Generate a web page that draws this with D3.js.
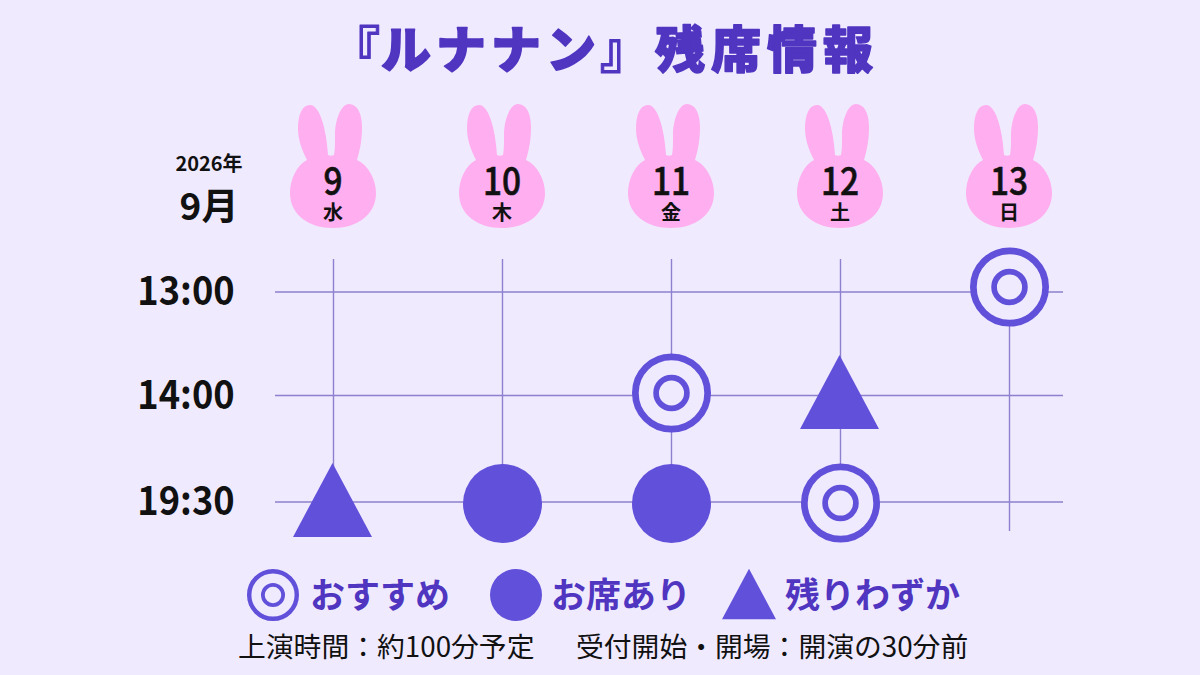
<!DOCTYPE html>
<html lang="ja">
<head>
<meta charset="utf-8">
<script src="https://cdn.jsdelivr.net/npm/d3@7"></script>
<style>
  html, body { margin: 0; padding: 0; background: #f0eaff; }
  text { font-family: "Noto Sans CJK JP", sans-serif; }
</style>
</head>
<body>
<svg id="chart" width="1200" height="675"></svg>
<script>
const days = ["9", "10", "11", "12", "13"];
const weekdays = ["水", "木", "金", "土", "日"];
const times = ["13:00", "14:00", "19:30"];
// seat status per time row, one entry per day: null = no show
const seats1300 = [null, null, null, null, "double"];
const seats1400 = [null, null, "double", "triangle", null];
const seats1930 = ["triangle", "circle", "circle", "double", null];
const legendKeys = ["double", "circle", "triangle"];
const legendLabels = ["おすすめ", "お席あり", "残りわずか"];

const yearLabel = "2026年";
const monthLabel = "9月";
const noteLeft = "上演時間：約100分予定";
const noteRight = "受付開始・開場：開演の30分前";

const bgColor = "#f0eaff";
const titleColor = "#4f35c0";
const markColor = "#6150da";
const gridColor = "#8d80cf";
const bunnyColor = "#ffaef0";

const svg = d3.select("#chart");
svg.append("rect").attr("width", 1200).attr("height", 675).attr("fill", bgColor);

const x = d3.scalePoint().domain(days).range([333, 1009]);
// rows are not evenly spaced in the original
const y = d3.scaleOrdinal().domain(times).range([292, 395.5, 502]);
// the marks were placed by hand, a little off the grid crossings
const doubleShift = [-5, -2.5, 1];
const circleShift = [0, 0, 1.5];
const triangleShift = [0, -3.5, -2];

// grid
svg.append("g").selectAll("line").data(times).join("line")
    .attr("x1", 275).attr("x2", 1063)
    .attr("y1", d => y(d)).attr("y2", d => y(d))
    .attr("stroke", gridColor).attr("stroke-width", 1.4);
svg.append("g").selectAll("line").data(days).join("line")
    .attr("x1", d => x(d) + 0.5).attr("x2", d => x(d) + 0.5)
    .attr("y1", 259).attr("y2", 531)
    .attr("stroke", gridColor).attr("stroke-width", 1.4);

// title
function title(str, xPos, spacing, sw) {
    svg.append("text")
        .attr("x", xPos).attr("y", 68)
        .attr("font-size", 50)
        .attr("font-weight", 900)
        .attr("letter-spacing", spacing)
        .attr("fill", titleColor)
        .attr("stroke", titleColor)
        .attr("stroke-width", sw)
        .attr("stroke-linejoin", "round")
        .text(str);
}
title("『", 330, 0, 1);
title("ルナナン", 381, 5, 1.5);
title("』", 600, 0, 1);
title("残席情報", 655, 6, 1.5);

// year and month
svg.append("text").attr("x", 209).attr("y", 171).attr("text-anchor", "middle")
    .attr("font-size", 20).attr("font-weight", 700).attr("fill", "#111").text(yearLabel);
svg.append("text").attr("x", 209).attr("y", 220).attr("text-anchor", "middle")
    .attr("font-size", 37).attr("font-weight", 700).attr("fill", "#111").text(monthLabel);

// bunny heads with the date inside
const bunnies = svg.append("g").selectAll("g").data(days).join("g")
    .attr("transform", d => `translate(${x(d)},155)`);
bunnies.append("path")
    .attr("d", "M-23,-50 C-31,-50 -35,-40 -35,-27 C-35,-15 -31,-5 -26,5 C-36,10 -43,24 -43,38 C-43,60 -24,73 0,73 C24,73 43,60 43,38 C43,24 35,10 24,5 C27,-5 29,-15 29,-28 C29,-42 24,-51 16,-51 C8,-51 2,-35 2,-20 C2,-10 2,-5 1,0 C-1,1 -3,1 -5,0 C-6,-20 -12,-50 -23,-50 Z")
    .attr("fill", bunnyColor);
bunnies.append("text").attr("y", 40).attr("text-anchor", "middle")
    .attr("transform", "scale(0.88,1)")
    .attr("font-size", 38).attr("font-weight", 500)
    .attr("fill", "#111").attr("stroke", "#111").attr("stroke-width", 0.6)
    .text(d => d);
bunnies.append("text").attr("y", 65).attr("text-anchor", "middle")
    .attr("font-size", 20).attr("font-weight", 700).attr("fill", "#111")
    .text((d, i) => weekdays[i]);

// time labels
svg.append("g").selectAll("text").data(times).join("text")
    .attr("transform", d => `translate(186,${y(d) + 13}) scale(0.93,1)`)
    .attr("text-anchor", "middle")
    .attr("font-size", 39).attr("font-weight", 700).attr("fill", "#111")
    .text(d => d);

function drawMark(g, kind, cx, cy, r) {
    if (kind === "double") {
        const sw = r * 0.17;
        g.append("circle").attr("cx", cx).attr("cy", cy).attr("r", r - sw / 2)
            .attr("fill", bgColor).attr("stroke", markColor).attr("stroke-width", sw);
        g.append("circle").attr("cx", cx).attr("cy", cy).attr("r", r * 0.39)
            .attr("fill", "none").attr("stroke", markColor).attr("stroke-width", sw * 0.85);
    } else if (kind === "circle") {
        g.append("circle").attr("cx", cx).attr("cy", cy).attr("r", r).attr("fill", markColor);
    } else {
        const h = r * 1.87;
        g.append("path")
            .attr("d", d3.line()([[cx, cy - h / 2], [cx + r, cy + h / 2], [cx - r, cy + h / 2]]) + "Z")
            .attr("fill", markColor);
    }
}

// seat marks
const marks = svg.append("g");
[seats1300, seats1400, seats1930].forEach((row, t) => {
    row.forEach((kind, i) => {
        if (!kind) return;
        const shift = kind === "double" ? doubleShift[t] : kind === "circle" ? circleShift[t] : triangleShift[t];
        drawMark(marks, kind, x(days[i]) + (kind === "triangle" ? -0.5 : 0.5), y(times[t]) + shift, 39.5);
    });
});

// legend
const legendX = [273, 516, 749];
const legendSizes = [26, 26, 27];
const legendTextX = [310, 551, 785];
const legend = svg.append("g");
legendKeys.forEach((k, i) => {
    drawMark(legend, k, legendX[i], k === "triangle" ? 594 : 595, legendSizes[i]);
    legend.append("text")
        .attr("x", legendTextX[i]).attr("y", 608)
        .attr("font-size", 35).attr("font-weight", 700)
        .attr("fill", titleColor)
        .text(legendLabels[i]);
});

// footer notes
svg.append("text").attr("x", 238).attr("y", 657)
    .attr("font-size", 27.8).attr("font-weight", 400).attr("fill", "#111").text(noteLeft);
svg.append("text").attr("x", 576).attr("y", 657)
    .attr("font-size", 27.8).attr("font-weight", 400).attr("fill", "#111").text(noteRight);
</script>
</body>
</html>
